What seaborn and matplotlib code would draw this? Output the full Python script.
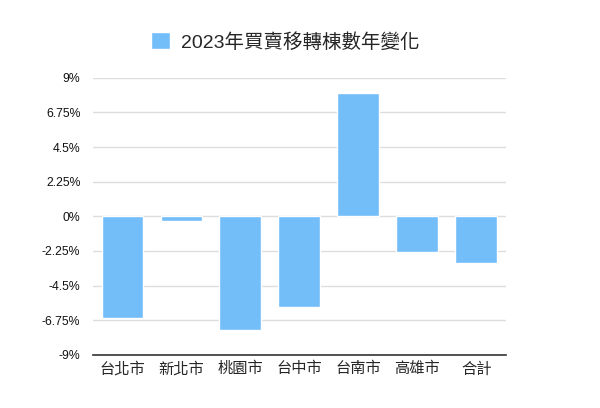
import matplotlib
matplotlib.use("Agg")
import matplotlib.pyplot as plt
import seaborn as sns
import pandas as pd

categories = ["台北市", "新北市", "桃園市", "台中市", "台南市", "高雄市", "合計"]
values = [-6.6, -0.3, -7.4, -5.9, 8.0, -2.3, -3.0]
yticks = [9, 6.75, 4.5, 2.25, 0, -2.25, -4.5, -6.75, -9]
ytick_labels = ["9%", "6.75%", "4.5%", "2.25%", "0%", "-2.25%", "-4.5%", "-6.75%", "-9%"]
series_name = "2023年買賣移轉棟數年變化"

sns.set_theme(style="white")
plt.rcParams['font.family'] = ['Liberation Sans', 'Noto Sans CJK TC', 'DejaVu Sans']

df = pd.DataFrame({"city": categories, "value": values})

fig = plt.figure(figsize=(6, 4.08), dpi=100)
ax = fig.add_axes([0.155, 0.13, 0.688, 0.6796])

sns.barplot(data=df, x="city", y="value", color="#73BDF8", width=0.71,
            saturation=1, ax=ax, label=series_name)

ax.set_ylim(-9, 9)
ax.set_xlim(-0.5, len(categories) - 0.5)
ax.set_yticks(yticks)
ax.set_yticklabels(ytick_labels, fontsize=8.8, color="#111111")
ax.set_xticks(range(len(categories)))
ax.set_xticklabels(categories, fontsize=7.8, color="#111111")
ax.set_xlabel("")
ax.set_ylabel("")
ax.tick_params(axis="y", length=0, pad=9)
ax.tick_params(axis="x", length=0, pad=5)

ax.grid(axis="y", color="#dddddd", linewidth=1)
ax.set_axisbelow(True)
for s in ["top", "right", "left"]:
    ax.spines[s].set_visible(False)
ax.spines["bottom"].set_color("#333333")
ax.spines["bottom"].set_linewidth(1.2)
ax.spines["bottom"].set_position(("data", -9))

if ax.legend_:
    ax.legend_.remove()
h, l = ax.get_legend_handles_labels()
fig.legend(h[:1], l[:1], loc="center", bbox_to_anchor=(0.476, 0.897),
           frameon=False, fontsize=14, handlelength=0.95, handleheight=0.95,
           handletextpad=0.6)

fig.savefig("out.png", dpi=100)
